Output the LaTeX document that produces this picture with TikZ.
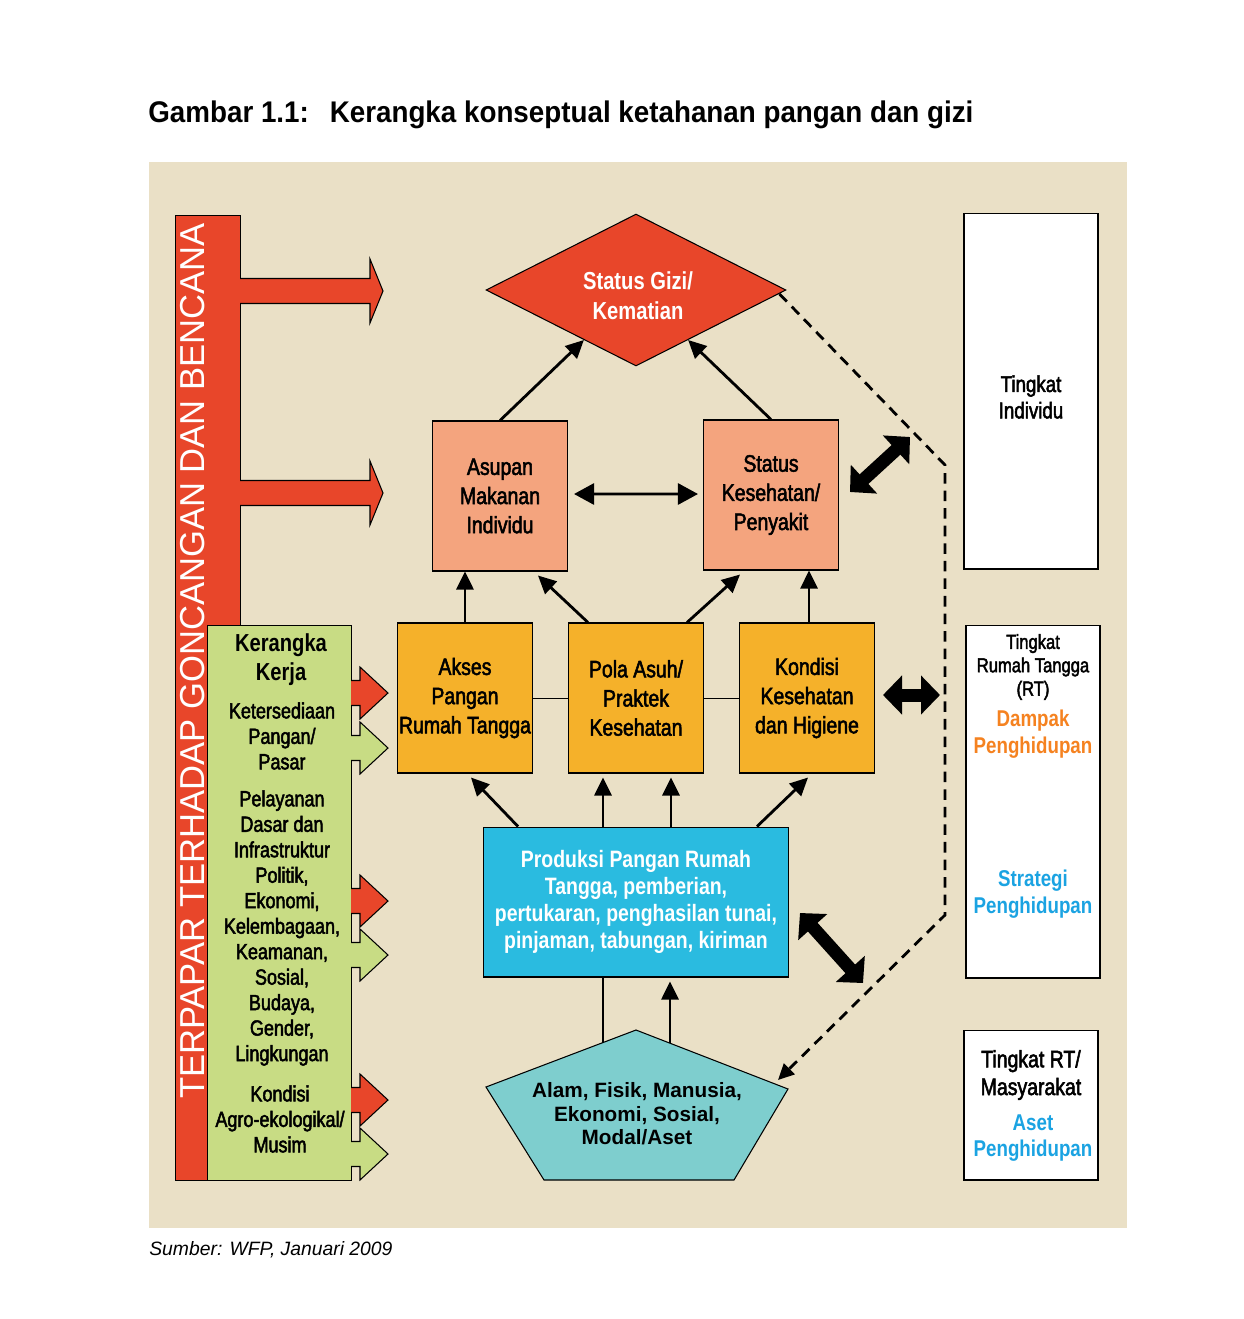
\documentclass[tikz,border=0pt]{standalone}
\usepackage{fontspec}
\setmainfont{Liberation Sans}
\newfontfamily\cnd{Liberation Sans}[FakeStretch=0.82, UprightFeatures={FakeBold=2.2}]
\newfontfamily\ttl{Liberation Sans}[FakeStretch=0.93]
\usepackage{xcolor}
\usetikzlibrary{shapes,arrows.meta,positioning,calc}

\definecolor{bgbeige}{RGB}{234,224,198}
\definecolor{gizired}{RGB}{232,70,42}
\definecolor{salmon}{RGB}{244,164,126}
\definecolor{orangebox}{RGB}{245,177,42}
\definecolor{bluebox}{RGB}{42,187,224}
\definecolor{tealbox}{RGB}{126,206,206}
\definecolor{greenbox}{RGB}{200,220,132}
\definecolor{dampak}{RGB}{245,130,32}
\definecolor{strategi}{RGB}{27,163,226}

\begin{document}
\begin{tikzpicture}[x=0.02cm, y=-0.02cm,
    conn/.style={line width=1.6pt, -{Triangle[length=0.36cm,width=0.34cm]}},
    fatarrow/.style={line width=0.26cm, {Triangle[length=0.38cm,width=0.76cm]}-{Triangle[length=0.38cm,width=0.76cm]}},
    box/.style={draw, line width=0.6pt, minimum width=2.7cm, minimum height=3cm, align=center, inner sep=0pt, font=\cnd\fontsize{13.5}{16.6}\selectfont},
    sidebox/.style={draw, fill=white, line width=0.6pt, minimum width=2.68cm, inner sep=0pt},
    sidetext/.style={align=center, font=\cnd\fontsize{13}{15}\selectfont},
    sidebold/.style={align=center, font=\cnd\bfseries\fontsize{13}{15.3}\selectfont},
    kerja/.style={align=center, font=\cnd\fontsize{12.5}{14.5}\selectfont},
    blockarrow/.style={draw, line width=0.6pt, line join=miter}]
    \useasboundingbox (0,0) rectangle (1244,1319);

    % Title, background and source
    \node[anchor=west, inner sep=0pt, font=\ttl\bfseries\fontsize{17}{20}\selectfont] (title) at (148,115) {Gambar 1.1:\hspace{0.7em}Kerangka konseptual ketahanan pangan dan gizi};
    \fill[bgbeige] (149,162) rectangle (1127,1228);
    \node[anchor=west, inner sep=0pt, font=\itshape\fontsize{11}{13}\selectfont] (sumber) at (149,1250) {Sumber: WFP, Januari 2009};

    % Shocks bar with its two block arrows
    \node[draw, fill=gizired, anchor=north west, minimum width=1.3cm, minimum height=19.3cm, inner sep=0pt] (bar) at (175,215) {};
    \node[rotate=90, text=white, font=\fontsize{19.7}{22}\selectfont] (bartext) at (193,661) {TERPAPAR TERHADAP GONCANGAN DAN BENCANA};
    \foreach \y in {291,493}
        \draw[blockarrow, fill=gizired] (240,\y-12.5) -- (370,\y-12.5) -- (370,\y-32) -- (383,\y) -- (370,\y+32) -- (370,\y+12.5) -- (240,\y+12.5);

    % Framework column
    \node[draw, fill=greenbox, anchor=north west, minimum width=2.88cm, minimum height=11.1cm, inner sep=0pt] (kerangka) at (207,625) {};
    \node[kerja, font=\cnd\bfseries\fontsize{14}{16.4}\selectfont] (kkerja) at (281,660) {Kerangka\\Kerja};
    \node[kerja] (sedia) at (282,736) {Ketersediaan\\Pangan/\\Pasar};
    \node[kerja] (layan) at (282,928) {Pelayanan\\Dasar dan\\Infrastruktur\\Politik,\\Ekonomi,\\Kelembagaan,\\Keamanan,\\Sosial,\\Budaya,\\Gender,\\Lingkungan};
    \node[kerja] (agro) at (280,1119) {Kondisi\\Agro-ekologikal/\\Musim};
    \foreach \y/\c in {693/gizired, 748/greenbox, 901/gizired, 955/greenbox, 1100/gizired, 1154/greenbox}
        \draw[blockarrow, fill=\c] (351,\y-12.5) -- (360,\y-12.5) -- (360,\y-26) -- (388,\y) -- (360,\y+26) -- (360,\y+12.5) -- (351,\y+12.5);

    % Outcome and causes
    \node[diamond, draw, line width=0.6pt, fill=gizired, minimum width=6cm, minimum height=3.04cm, inner sep=0pt] (gizi) at (636,290) {};
    \node[text=white, align=center, font=\cnd\bfseries\fontsize{14}{17}\selectfont] (gizitxt) at (638,296) {Status Gizi/\\Kematian};
    \node[box, fill=salmon] (asupan) at (500,496) {Asupan\\Makanan\\Individu};
    \node[box, fill=salmon] (stat) at (771,495) {Status\\Kesehatan/\\Penyakit};
    \node[box, fill=orangebox] (pola) at (636,698) {Pola Asuh/\\Praktek\\Kesehatan};
    \node[box, fill=orangebox, left=0.7cm of pola] (akses) {Akses\\Pangan\\Rumah Tangga};
    \node[box, fill=orangebox, right=0.7cm of pola] (kond) {Kondisi\\Kesehatan\\dan Higiene};
    \node[box, fill=bluebox, minimum width=6.1cm, text=white, font=\cnd\bfseries\fontsize{13.5}{15.5}\selectfont, below=1.06cm of pola] (prod) {Produksi Pangan Rumah\\Tangga, pemberian,\\pertukaran, penghasilan tunai,\\pinjaman, tabungan, kiriman};

    % Assets pentagon
    \draw[fill=tealbox, line width=0.6pt] (636,1030) -- (788,1089) -- (734,1180) -- (544,1180) -- (486,1087) -- cycle;
    \node[align=center, font=\bfseries\fontsize{11.8}{13.3}\selectfont] (alam) at (637,1114) {Alam, Fisik, Manusia,\\Ekonomi, Sosial,\\Modal/Aset};
    \coordinate (aset1) at (603,1043);
    \coordinate (aset2) at (670,1043);

    % Levels on the right
    \node[sidebox, minimum height=7.12cm] (ind) at (1031,391) {};
    \node[sidetext] (indtxt) at (1031,397) {Tingkat\\Individu};
    \node[sidebox, minimum height=7.06cm] (rt) at (1033,801.5) {};
    \node[sidetext, font=\cnd\fontsize{11.5}{13.3}\selectfont] (rttxt) at (1033,667) {Tingkat\\Rumah Tangga\\(RT)};
    \node[sidebold, text=dampak] (dampak) at (1033,734) {Dampak\\Penghidupan};
    \node[sidebold, text=strategi] (strat) at (1033,894) {Strategi\\Penghidupan};
    \node[sidebox, minimum height=3cm] (mas) at (1031,1105) {};
    \node[sidetext, font=\cnd\fontsize{13.5}{15.8}\selectfont] (mastxt) at (1031,1075) {Tingkat RT/\\Masyarakat};
    \node[sidebold, text=strategi] (aset) at (1033,1138) {Aset\\Penghidupan};

    % Arrows between the causes
    \draw[conn] (asupan.north) -- (gizi);
    \draw[conn] (stat.north) -- (gizi);
    \draw[conn, {Triangle[length=0.4cm,width=0.42cm]}-{Triangle[length=0.4cm,width=0.42cm]}] ([xshift=0.12cm, yshift=0.04cm]asupan.east) -- ([xshift=-0.1cm, yshift=0.02cm]stat.west);
    \draw[conn] (akses.north) -- (akses.north |- asupan.south);
    \draw[conn] ([xshift=-0.96cm]pola.north) -- ([xshift=0.76cm, yshift=-0.08cm]asupan.south);
    \draw[conn] ([xshift=1.02cm]pola.north) -- ([xshift=-0.62cm, yshift=-0.08cm]stat.south);
    \draw[conn] ([xshift=0.04cm]kond.north) -- ([xshift=0.04cm]kond.north |- stat.south);
    \draw[line width=0.5pt] (akses) -- (pola);
    \draw[line width=0.5pt] (pola) -- (kond);
    \draw[conn] ([xshift=-2.36cm]prod.north) -- ([xshift=0.12cm, yshift=-0.08cm]akses.south);
    \draw[conn] ([xshift=-0.66cm]prod.north) -- ([xshift=-0.66cm, yshift=-0.08cm]pola.south);
    \draw[conn] ([xshift=0.7cm]prod.north) -- ([xshift=0.7cm, yshift=-0.08cm]pola.south);
    \draw[conn] ([xshift=2.42cm]prod.north) -- ([xshift=0.02cm, yshift=-0.08cm]kond.south);
    \draw[line width=1.6pt] (aset1) -- (aset1 |- prod.south);
    \draw[conn] (aset2) -- ([yshift=-0.08cm]aset2 |- prod.south);

    % Feedback loop and level links
    \coordinate (d1) at (945,465);
    \coordinate (d2) at (945,915);
    \coordinate (d3) at (778,1080);
    \draw[line width=1.6pt, dash pattern=on 6pt off 4pt, -{Triangle[length=0.32cm,width=0.3cm]}] ([xshift=-0.14cm, yshift=-0.08cm]gizi.east) -- (d1) -- (d2) -- (d3);
    \coordinate (f1a) at (850,492);
    \coordinate (f1b) at (910,437);
    \coordinate (f2a) at (883,695);
    \coordinate (f2b) at (940,695);
    \coordinate (f3a) at (800,913);
    \coordinate (f3b) at (863,983);
    \draw[fatarrow] (f1a) -- (f1b);
    \draw[fatarrow] (f2a) -- (f2b);
    \draw[fatarrow] (f3a) -- (f3b);
\end{tikzpicture}
\end{document}
